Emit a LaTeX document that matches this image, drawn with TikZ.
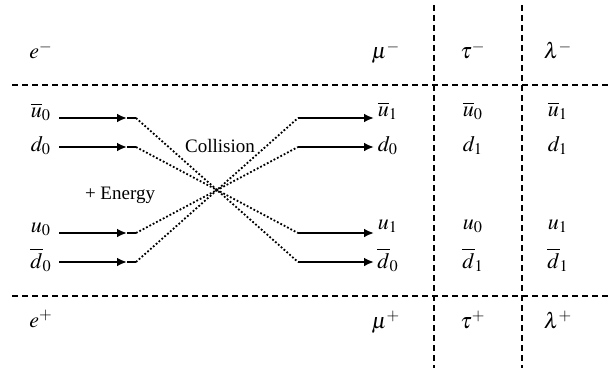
\documentclass[tikz,border=0pt]{standalone}
\usepackage{mathptmx}
\usepackage{fontspec}
\setmainfont{Liberation Serif}
\usetikzlibrary{arrows.meta,positioning}

\begin{document}
\begin{tikzpicture}[x=0.5pt,y=-0.5pt,
   lab/.style={font=\fontsize{9.5}{11}\selectfont,inner sep=0pt,anchor=base},
   mlab/.style={font=\fontsize{11}{13}\selectfont,inner sep=0pt,anchor=base},
   sep/.style={dash pattern=on 3pt off 2pt,line width=0.6pt},
   quark/.style={line width=1pt},
   swap/.style={densely dotted,line width=0.9pt},
   tip/.style={-{Latex[length=5pt,width=4.4pt]}}]
  \useasboundingbox (0,0) rectangle (613,374);
  % ---------- separators ----------
  \coordinate (hlt) at (12,85);  \coordinate (hrt) at (608,85);
  \coordinate (hlb) at (12,296); \coordinate (hrb) at (608,296);
  \coordinate (vt1) at (434,5);  \coordinate (vb1) at (434,368);
  \coordinate (vt2) at (522,5);  \coordinate (vb2) at (522,368);
  \draw[sep] (hlt) -- (hrt);
  \draw[sep] (hlb) -- (hrb);
  \draw[sep] (vt1) -- (vb1);
  \draw[sep] (vt2) -- (vb2);
  % ---------- particle names ----------
  \node[mlab] (em)  at (41,59)  {$e^-$};
  \node[mlab] (ep)  at (41,327) {$e^+$};
  \node[mlab] (mum) at (386,59)  {$\mu^-$};
  \node[mlab] (mup) at (386,328) {$\mu^+$};
  \node[mlab] (taum) at (473,59)  {$\tau^-$};
  \node[mlab] (taup) at (473,328) {$\tau^+$};
  \node[mlab] (lamm) at (558,59)  {$\lambda^-$};
  \node[mlab] (lamp) at (558,328) {$\lambda^+$};
  % ---------- incoming quarks ----------
  \foreach \y/\i/\b/\t in {118/1/117/{\overline{u}_0},147/2/151/{d_0},
                           233/3/232/{u_0},262/4/268/{\overline{d}_0}}{
    \node[mlab] (q\i) at (41,\b) {$\t$};
    \coordinate (in\i) at (59,\y);
    \coordinate (mid\i) at (127,\y);
    \coordinate (out\i) at (136,\y);
    \draw[quark,tip] (in\i) -- (mid\i);
    \draw[quark] (mid\i) -- (out\i);
  }
  % ---------- outgoing quarks ----------
  \foreach \y/\i/\b/\m/\t/\l in {118/1/116/{\overline{u}_1}/{\overline{u}_0}/{\overline{u}_1},
                                 147/2/151/{d_0}/{d_1}/{d_1},
                                 233/3/229/{u_1}/{u_0}/{u_1},
                                 262/4/268/{\overline{d}_0}/{\overline{d}_1}/{\overline{d}_1}}{
    \coordinate (rin\i) at (298,\y);
    \coordinate (rout\i) at (374,\y);
    \draw[quark,tip] (rin\i) -- (rout\i);
    \node[mlab] (m\i) at (388,\b) {$\m$};
    \node[mlab] (t\i) at (473,\b) {$\t$};
    \node[mlab] (l\i) at (558,\b) {$\l$};
  }
  % ---------- collision ----------
  \foreach \a/\b in {1/4,2/3,3/2,4/1}{
    \draw[swap] (out\a) -- (rin\b);
  }
  \node[lab] (coll) at (220,152) {Collision};
  \node[lab] (energy) at (120,199) {+ Energy};
\end{tikzpicture}
\end{document}
